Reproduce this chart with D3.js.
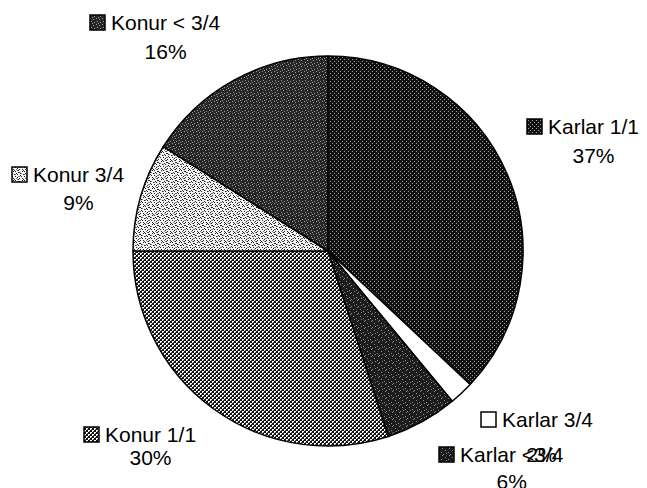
<!DOCTYPE html>
<html>
<head>
<meta charset="utf-8">
<script src="https://cdn.jsdelivr.net/npm/d3@7"></script>
<style>
  body { margin: 0; background: #fff; }
  svg { display: block; font-family: "Liberation Sans", Arial, sans-serif; }
</style>
</head>
<body>
<svg id="pie" width="647" height="488"></svg>
<script>
// slice data, clockwise from 12 o'clock
const categories = ["Karlar 1/1", "Karlar 3/4", "Karlar <3/4", "Konur 1/1", "Konur 3/4", "Konur < 3/4"];
const values = [37, 2, 6, 30, 9, 16];
const pctLabels = ["37%", "2%", "6%", "30%", "9%", "16%"];

// where each label sits (text start x, label baseline, percent baseline)
const labelPos = [
    [548, 134, 163],
    [502, 427, 462],
    [460, 462, 489],
    [105, 442, 465],
    [33, 182, 210],
    [111, 30, 59]
];

const svg = d3.select("#pie");
const cx = 328, cy = 251, radius = 195;
const fontSize = 21;

// grayscale textures like the scanned print
const defs = svg.append("defs");

function pattern(id, size, bg) {
    let p = defs.append("pattern")
        .attr("id", id)
        .attr("patternUnits", "userSpaceOnUse")
        .attr("width", size)
        .attr("height", size);
    p.append("rect").attr("width", size).attr("height", size).attr("fill", bg);
    return p;
}
function dots(p, pts, color, s) {
    pts.forEach(d => p.append("rect")
        .attr("x", d[0]).attr("y", d[1])
        .attr("width", s || 1).attr("height", s || 1)
        .attr("fill", color));
}

// Karlar 1/1: black with fine white dot grid
let p0 = pattern("pat0", 4, "#111");
dots(p0, [[0, 0], [2, 2]], "#a0a0a0");
// Karlar 3/4: white
pattern("pat1", 4, "#fff");
// Karlar <3/4: dark speckle
let p2 = pattern("pat2", 7, "#1c1c1c");
dots(p2, [[1, 0], [4, 2], [0, 4], [5, 5], [2, 6]], "#8a8a8a");
// Konur 1/1: checker weave
let p3 = pattern("pat3", 4, "#fff");
dots(p3, [[0, 0], [2, 2]], "#111", 2);
dots(p3, [[1, 3], [3, 1]], "#555");
// Konur 3/4: light with black specks
let p4 = pattern("pat4", 9, "#f4f4f4");
dots(p4, [[0, 1], [1, 1], [4, 0], [7, 2], [2, 4], [3, 5], [6, 5], [8, 6], [1, 7], [5, 8], [4, 7],
          [6, 0], [8, 3], [0, 8], [2, 2], [5, 3]], "#222");
dots(p4, [[6, 3], [0, 5], [8, 8], [3, 2], [7, 7], [1, 5]], "#777");
// Konur <3/4: dark speckle, a bit lighter
let p5 = pattern("pat5", 6, "#262626");
dots(p5, [[0, 0], [3, 1], [1, 3], [4, 4], [2, 5]], "#9a9a9a");

const fills = categories.map((c, i) => "url(#pat" + i + ")");

const pie = d3.pie().sort(null).value(d => d);
const arc = d3.arc().innerRadius(0).outerRadius(radius);

const g = svg.append("g").attr("transform", `translate(${cx},${cy})`);
g.selectAll("path")
    .data(pie(values))
    .enter()
    .append("path")
    .attr("d", arc)
    .attr("fill", (d, i) => fills[i])
    .attr("stroke", "#000")
    .attr("stroke-width", 1.5)
    .attr("stroke-linejoin", "round");

// labels with a small legend box
const labels = svg.append("g").attr("font-size", fontSize).attr("fill", "#000");
categories.forEach((c, i) => {
    let pos = labelPos[i];
    labels.append("rect")
        .attr("x", pos[0] - 21)
        .attr("y", pos[1] - 15)
        .attr("width", 15)
        .attr("height", 15)
        .attr("fill", fills[i])
        .attr("stroke", "#000")
        .attr("stroke-width", 1.5);
    let t = labels.append("text")
        .attr("x", pos[0])
        .attr("y", pos[1])
        .text(c);
    let w = t.node().getComputedTextLength();
    // the 2% label lands on top of the next label, as in the original print
    labels.append("text")
        .attr("x", pos[0] + w / 2 - (i === 1 ? 6 : 0))
        .attr("y", pos[2])
        .attr("text-anchor", "middle")
        .text(pctLabels[i]);
});
</script>
</body>
</html>
